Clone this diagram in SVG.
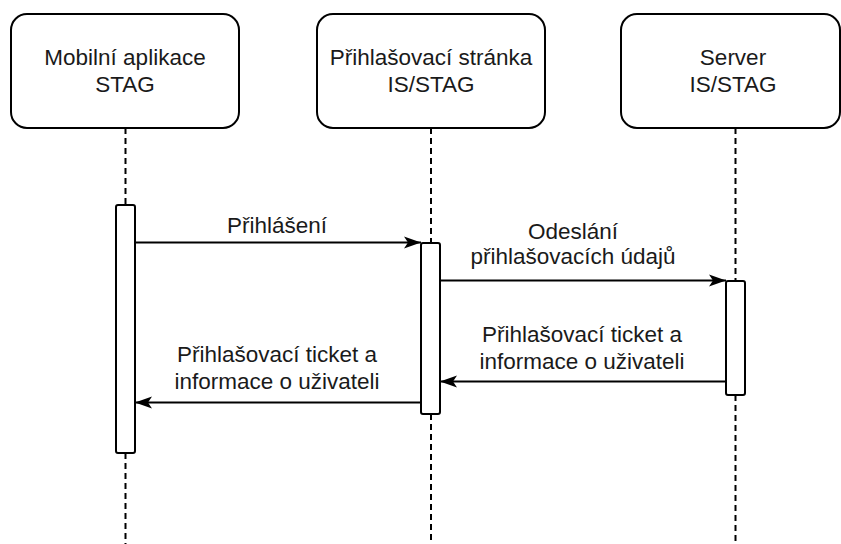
<svg xmlns="http://www.w3.org/2000/svg" width="841" height="544" viewBox="0 0 841 544">
<style>
.box{fill:#fff;stroke:#000;stroke-width:2}
.act{fill:#fff;stroke:#000;stroke-width:2}
.life{stroke:#000;stroke-width:2;stroke-dasharray:6 4;fill:none}
.msg{stroke:#000;stroke-width:2;fill:none}
text{font-family:"Liberation Sans",Arial,sans-serif;font-size:22.5px;fill:#1a1a1a;text-anchor:middle}
</style>
<defs>
<marker id="arr" markerUnits="userSpaceOnUse" markerWidth="18" markerHeight="14" viewBox="0 0 18 14" refX="17" refY="7" orient="auto">
<path d="M0,1 L17,7 L0,13 L4,7 Z" fill="#000"/>
</marker>
</defs>
<rect width="841" height="544" fill="#fff"/>
<g id="lifelines">
<line class="life" x1="125.5" y1="128" x2="125.5" y2="205"/>
<line class="life" x1="125.5" y1="453" x2="125.5" y2="544"/>
<line class="life" x1="431" y1="128" x2="431" y2="243"/>
<line class="life" x1="431" y1="414" x2="431" y2="544"/>
<line class="life" x1="735.5" y1="128" x2="735.5" y2="281"/>
<line class="life" x1="735.5" y1="395" x2="735.5" y2="544"/>
</g>
<g id="node-mobile">
<rect class="box" x="11" y="14" width="228" height="114" rx="16"/>
<text x="125" y="65">Mobilní aplikace</text>
<text x="125" y="92">STAG</text>
</g>
<g id="node-login">
<rect class="box" x="317" y="14" width="228" height="114" rx="16"/>
<text x="431" y="65">Přihlašovací stránka</text>
<text x="431" y="92">IS/STAG</text>
</g>
<g id="node-server">
<rect class="box" x="621" y="14" width="219" height="114" rx="16"/>
<text x="733" y="65">Server</text>
<text x="733" y="92">IS/STAG</text>
</g>
<g id="act-mobile"><rect class="act" x="116" y="205" width="19" height="248" rx="2"/></g>
<g id="act-login"><rect class="act" x="421" y="243" width="19" height="171" rx="2"/></g>
<g id="act-server"><rect class="act" x="726" y="281" width="19" height="114" rx="2"/></g>
<g id="connectors">
<line class="msg" x1="135" y1="242.5" x2="421" y2="242.5" marker-end="url(#arr)"/>
<line class="msg" x1="440" y1="280.5" x2="726" y2="280.5" marker-end="url(#arr)"/>
<line class="msg" x1="726" y1="381.5" x2="440" y2="381.5" marker-end="url(#arr)"/>
<line class="msg" x1="421" y1="402.5" x2="135" y2="402.5" marker-end="url(#arr)"/>
</g>
<g id="labels">
<text x="277" y="233">Přihlášení</text>
<text x="573" y="239">Odeslání</text>
<text x="573" y="264">přihlašovacích údajů</text>
<text x="582" y="342">Přihlašovací ticket a</text>
<text x="582" y="369">informace o uživateli</text>
<text x="277" y="362">Přihlašovací ticket a</text>
<text x="277" y="389">informace o uživateli</text>
</g>
</svg>
